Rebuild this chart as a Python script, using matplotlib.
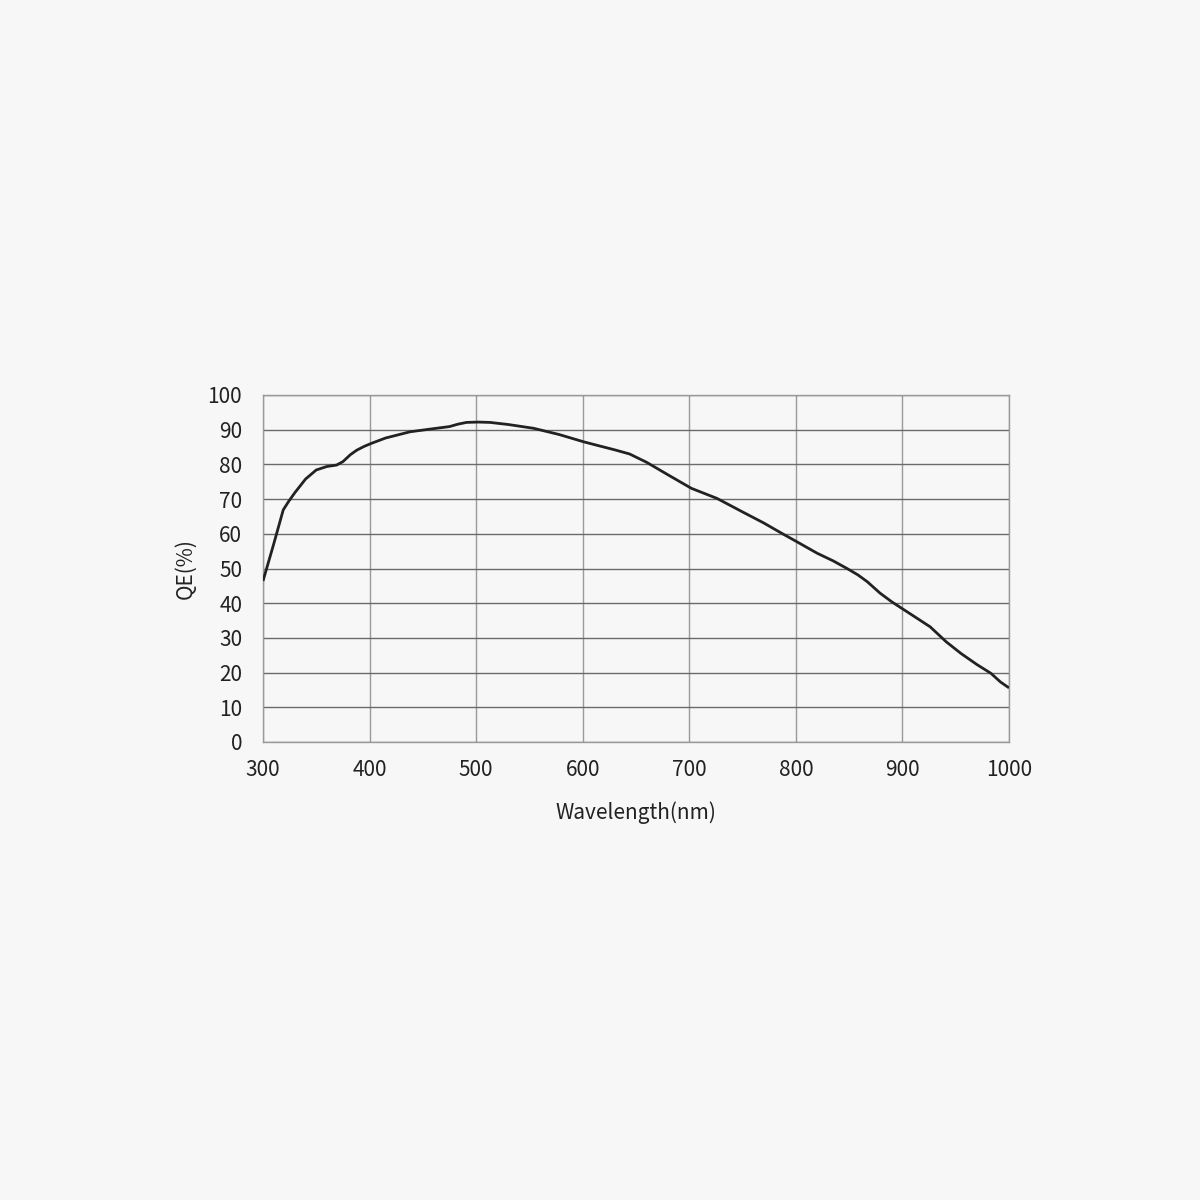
import matplotlib
matplotlib.use("Agg")
import matplotlib.pyplot as plt

wavelength = [300, 310, 319, 324, 330, 340, 350, 360, 369, 375, 382, 388, 395, 402, 415, 438, 460, 475, 483, 491, 502, 513, 530, 554, 578, 601, 616, 630, 644, 660, 680, 702, 726, 750, 770, 787, 801, 820, 835, 848, 858, 867, 879, 890, 902, 914, 926, 941, 955, 970, 983, 992, 1000]
qe = [46.4, 57.0, 66.9, 69.3, 71.9, 75.8, 78.4, 79.4, 79.8, 80.8, 82.8, 84.1, 85.2, 86.1, 87.6, 89.4, 90.3, 90.9, 91.6, 92.1, 92.2, 92.1, 91.5, 90.4, 88.6, 86.5, 85.3, 84.2, 83.0, 80.6, 77.0, 73.1, 70.2, 66.3, 63.1, 60.1, 57.7, 54.4, 52.2, 50.0, 48.2, 46.2, 42.9, 40.4, 38.0, 35.6, 33.2, 28.9, 25.5, 22.3, 19.8, 17.3, 15.6]

xticks = [300, 400, 500, 600, 700, 800, 900, 1000]
yticks = [0, 10, 20, 30, 40, 50, 60, 70, 80, 90, 100]

plt.rcParams['font.family'] = ['Noto Sans CJK SC', 'DejaVu Sans']
bg = '#f7f7f7'
fig = plt.figure(figsize=(12, 12), dpi=100, facecolor=bg)
ax = fig.add_axes([263/1200, 1-742/1200, 746/1200, 347/1200], facecolor=bg)

for x in xticks:
    ax.axvline(x, color='#9a9a9a', lw=1.0, zorder=1)
for y in yticks:
    ax.axhline(y, color='#6a6a6a', lw=1.0, zorder=1)

ax.plot(wavelength, qe, color='#222222', lw=2.0, solid_joinstyle='round', solid_capstyle='butt', zorder=3)

ax.set_xlim(300, 1000)
ax.set_ylim(0, 100)
ax.set_xticks(xticks)
ax.set_yticks(yticks)
ax.set_xticklabels([str(v) for v in xticks])
ax.set_yticklabels([str(v) for v in yticks])
ax.tick_params(length=0, labelsize=15, colors='#222222')
ax.tick_params(axis='x', pad=12)
ax.tick_params(axis='y', pad=15)
for s in ax.spines.values():
    s.set_color('#9a9a9a')
    s.set_linewidth(1.0)
ax.set_xlabel('Wavelength(nm)', fontsize=15, color='#222222', labelpad=15)
ax.set_ylabel('QE(%)', fontsize=15, color='#222222', labelpad=8)

fig.savefig('out.png', dpi=100, facecolor=bg)
